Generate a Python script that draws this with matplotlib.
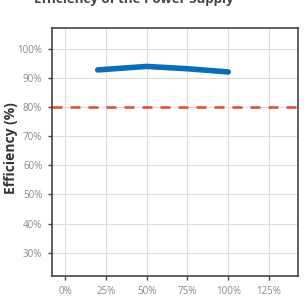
import matplotlib
matplotlib.use("Agg")
import matplotlib.pyplot as plt
from matplotlib.ticker import FuncFormatter

load_pct = [20, 50, 75, 100]
efficiency_pct = [92.7, 93.9, 93.1, 92.0]
threshold_pct = 80
x_ticks = [0, 25, 50, 75, 100, 125]
y_ticks = [30, 40, 50, 60, 70, 80, 90, 100]
title = "Efficiency of the Power Supply"
ylabel = "Efficiency (%)"

plt.rcParams['font.family'] = ['Open Sans', 'DejaVu Sans']

fig = plt.figure(figsize=(3.04, 2.96), dpi=100)
ax = fig.add_axes([0.171, 0.0676, 0.809, 0.837])

ax.plot(load_pct, efficiency_pct, color='#0b6db7', lw=4, solid_capstyle='round', solid_joinstyle='round', zorder=3)
ax.axhline(threshold_pct, color='#e8442e', lw=1.8, ls=(0, (4, 3.2)), zorder=2)

ax.set_xlim(-8, 142.7)
ax.set_ylim(22, 107)
ax.set_xticks(x_ticks)
ax.set_yticks(y_ticks)
fmt = FuncFormatter(lambda v, p: f"{int(v)}%")
ax.xaxis.set_major_formatter(fmt)
ax.yaxis.set_major_formatter(fmt)
ax.grid(True, color='#dcdcdc', lw=0.8)
ax.set_axisbelow(True)
ax.tick_params(axis='both', labelsize=7, colors='#444444', labelcolor='#888888', length=3, width=1, pad=4)
for s in ax.spines.values():
    s.set_color('#444444')
    s.set_linewidth(1.2)

fig.text(0.035, 0.50, ylabel, rotation=90, ha='center', va='center', fontsize=10, fontweight='bold', color='#333333')
fig.text(0.44, 0.99, title, ha='center', va='baseline', fontsize=9.5, fontweight='bold', color='#444444')

fig.savefig('out.png', dpi=100)
